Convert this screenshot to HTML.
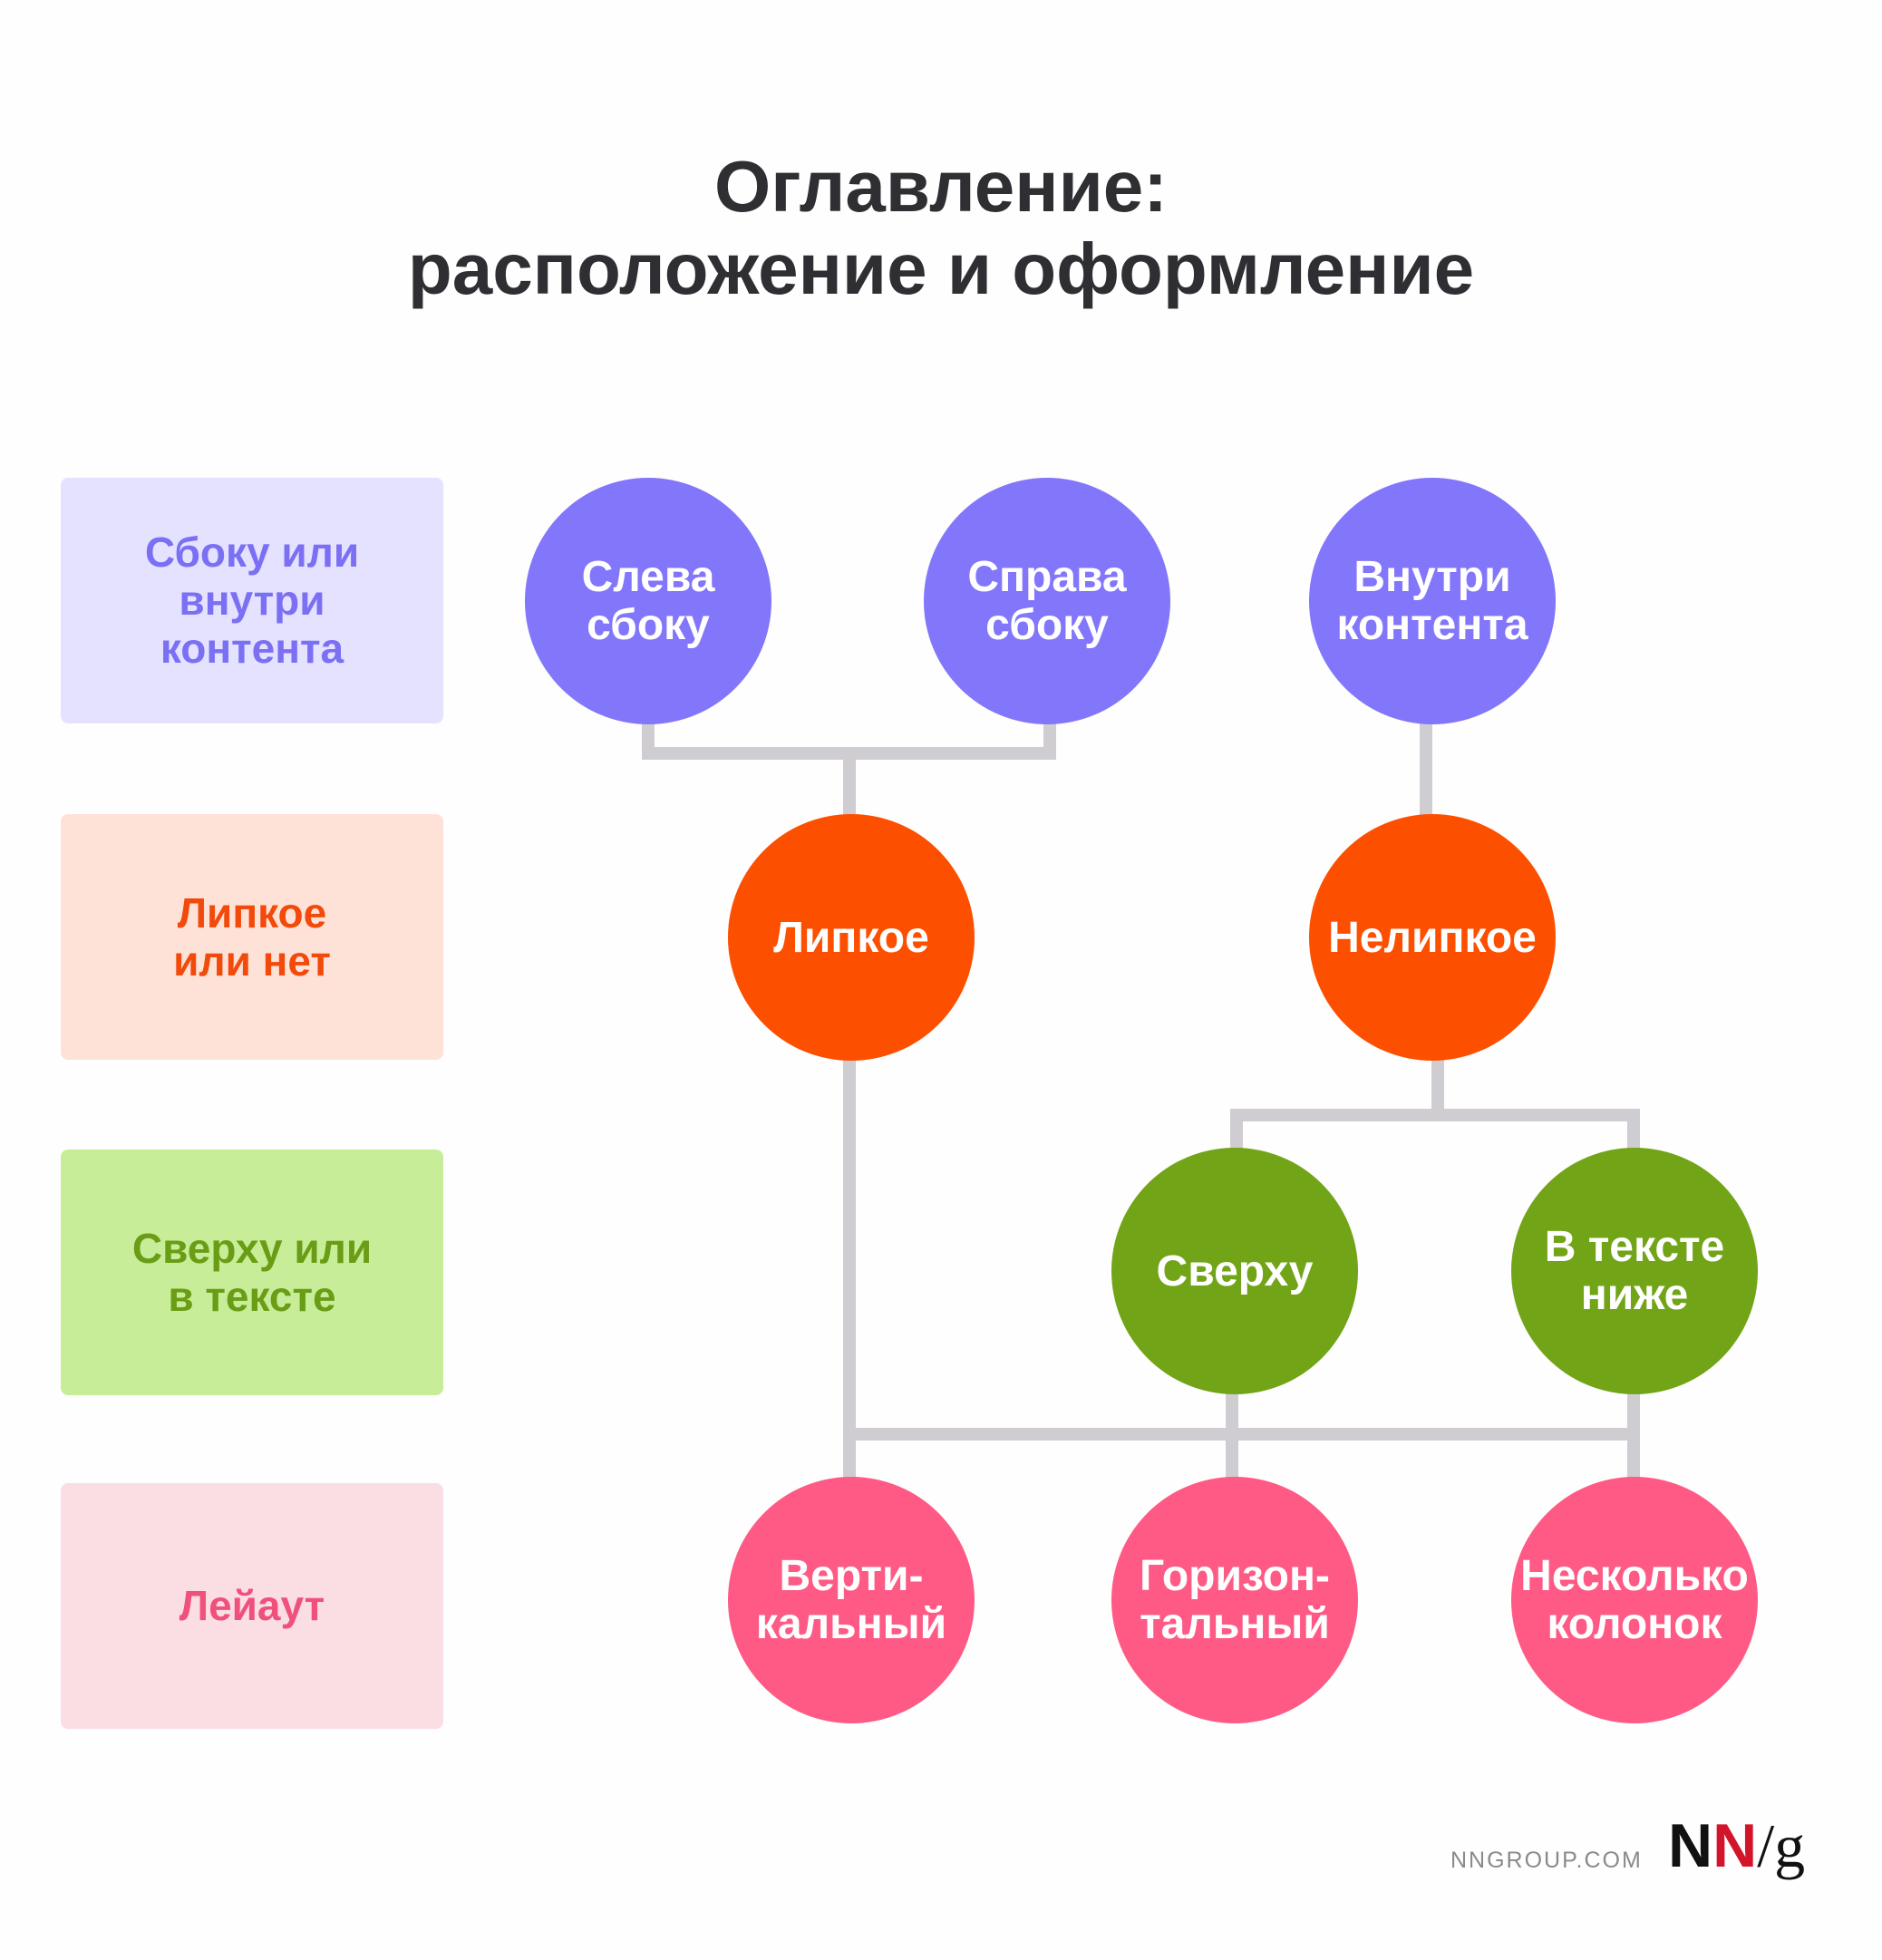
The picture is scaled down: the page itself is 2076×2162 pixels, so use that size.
<!DOCTYPE html>
<html><head><meta charset="utf-8"><style>
body{margin:0;width:2076px;height:2162px;background:#fefefe;position:relative;overflow:hidden;font-family:"Liberation Sans","Noto Sans CJK SC",sans-serif;font-weight:bold}
.t{position:absolute;left:0;width:2076px;text-align:center;color:#2f2f33;font-size:80px;line-height:90px}
.box{position:absolute;left:67px;width:422px;height:271px;border-radius:8px;display:flex;align-items:center;justify-content:center;text-align:center;font-size:46px;line-height:53px}
.c{position:absolute;width:272px;height:272px;border-radius:50%;display:flex;align-items:center;justify-content:center;text-align:center;color:#fff;font-size:48px;line-height:53px}
.l{position:absolute;background:#cfcdd2}
</style></head><body>
<div class="t" style="top:161px">Оглавление:</div>
<div class="t" style="top:252px">расположение и оформление</div>

<div class="box" style="top:527px;background:#e4e2fe;color:#7b6ff4">Сбоку или<br>внутри<br>контента</div>
<div class="box" style="top:898px;background:#fee2d8;color:#f24a0a">Липкое<br>или нет</div>
<div class="box" style="top:1268px;background:#c8ed98;color:#6a9d16">Сверху или<br>в тексте</div>
<div class="box" style="top:1636px;background:#fbdde4;color:#f0507c">Лейаут</div>

<!-- lines -->
<div class="l" style="left:708px;top:790px;width:14px;height:48px"></div>
<div class="l" style="left:1151px;top:790px;width:14px;height:48px"></div>
<div class="l" style="left:708px;top:824px;width:457px;height:14px"></div>
<div class="l" style="left:930px;top:824px;width:14px;height:80px"></div>
<div class="l" style="left:1566px;top:790px;width:14px;height:112px"></div>
<div class="l" style="left:1579px;top:1160px;width:14px;height:72px"></div>
<div class="l" style="left:1357px;top:1223px;width:452px;height:14px"></div>
<div class="l" style="left:1357px;top:1223px;width:14px;height:50px"></div>
<div class="l" style="left:1795px;top:1223px;width:14px;height:50px"></div>
<div class="l" style="left:930px;top:1160px;width:14px;height:470px"></div>
<div class="l" style="left:930px;top:1575px;width:879px;height:14px"></div>
<div class="l" style="left:1352px;top:1530px;width:14px;height:100px"></div>
<div class="l" style="left:1795px;top:1530px;width:14px;height:100px"></div>

<div class="c" style="left:579px;top:527px;background:#8276fa">Слева<br>сбоку</div>
<div class="c" style="left:1019px;top:527px;background:#8276fa">Справа<br>сбоку</div>
<div class="c" style="left:1444px;top:527px;background:#8276fa">Внутри<br>контента</div>
<div class="c" style="left:803px;top:898px;background:#fd4f00">Липкое</div>
<div class="c" style="left:1444px;top:898px;background:#fd4f00">Нелипкое</div>
<div class="c" style="left:1226px;top:1266px;background:#72a418">Сверху</div>
<div class="c" style="left:1667px;top:1266px;background:#72a418">В тексте<br>ниже</div>
<div class="c" style="left:803px;top:1629px;background:#fe5a85">Верти-<br>кальный</div>
<div class="c" style="left:1226px;top:1629px;background:#fe5a85">Горизон-<br>тальный</div>
<div class="c" style="left:1667px;top:1629px;background:#fe5a85">Несколько<br>колонок</div>

<div style="position:absolute;left:1600px;top:2038px;font-size:25px;font-weight:normal;letter-spacing:2px;color:#8a8a8e">NNGROUP.COM</div>
<div style="position:absolute;left:1840px;top:1996px;font-size:68px;line-height:80px"><span style="color:#111">N</span><span style="color:#d2152a">N</span><span style="font-family:'Liberation Serif',serif;font-weight:normal;color:#111">/g</span></div>
</body></html>
